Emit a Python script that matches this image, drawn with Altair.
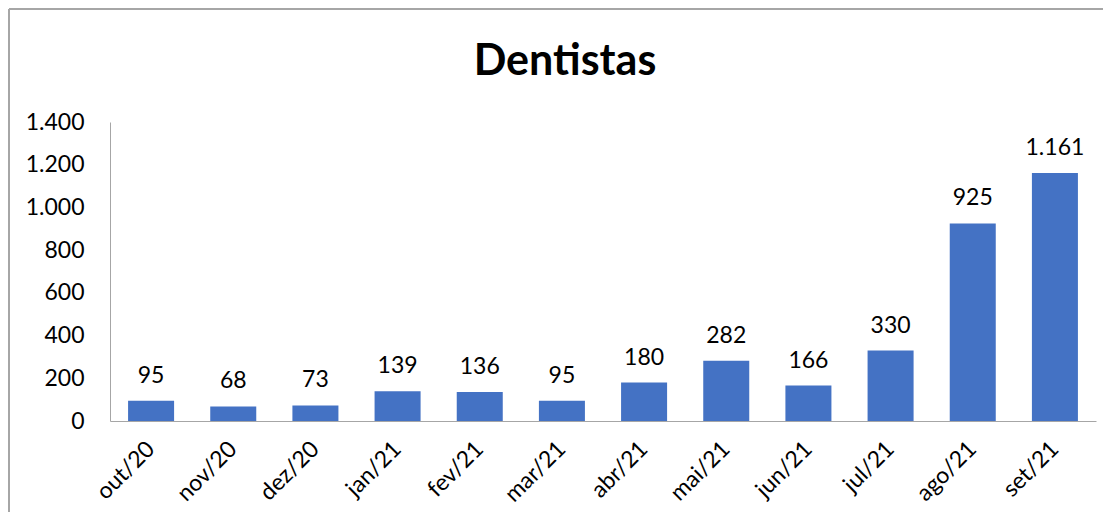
import altair as alt
import pandas as pd

months = ["out/20", "nov/20", "dez/20", "jan/21", "fev/21", "mar/21",
          "abr/21", "mai/21", "jun/21", "jul/21", "ago/21", "set/21"]
values = [95, 68, 73, 139, 136, 95, 180, 282, 166, 330, 925, 1161]
y_ticks = [0, 200, 400, 600, 800, 1000, 1200, 1400]

df = pd.DataFrame({"mes": months, "valor": values})

FONT = "Lato"
BLUE = "#4472C4"
GRAY = "#A6A6A6"

base = alt.Chart(df).encode(
    x=alt.X("mes:N", sort=months, title=None,
            scale=alt.Scale(paddingInner=0.44, paddingOuter=0.22),
            axis=alt.Axis(labelAngle=-45, labelAlign="right", labelBaseline="middle",
                          labelPadding=24, ticks=False, domainColor=GRAY,
                          labelFont=FONT, labelFontSize=23, labelColor="#000000")),
)

bars = base.mark_bar(color=BLUE).encode(
    y=alt.Y("valor:Q", title=None,
            scale=alt.Scale(domain=[0, 1400]),
            axis=alt.Axis(values=y_ticks, grid=False, ticks=False, domainColor=GRAY,
                          labelPadding=26, labelFont=FONT, labelFontSize=23,
                          labelColor="#000000",
                          labelExpr="replace(format(datum.value, ','), ',', '.')"))
)

labels = base.transform_calculate(
    rot="replace(format(datum.valor, ','), ',', '.')"
).mark_text(font=FONT, fontSize=23, baseline="alphabetic", dy=-18, color="#000000").encode(
    y="valor:Q", text="rot:N"
)

frame_df = pd.DataFrame({"a": [0]})
left_line = alt.Chart(frame_df).mark_rule(color=GRAY, strokeWidth=2).encode(
    x=alt.value(-101), y=alt.value(-113), y2=alt.value(390)
)
top_line = alt.Chart(frame_df).mark_rule(color=GRAY, strokeWidth=2).encode(
    x=alt.value(-101), x2=alt.value(993), y=alt.value(-113)
)

chart = alt.layer(bars, labels, left_line, top_line).properties(
    width=986, height=299, padding=0, background="white",
    title=alt.TitleParams("Dentistas", font=FONT, fontSize=43, fontWeight="bold",
                          anchor="middle", frame="group", dx=-38, offset=-110,
                          baseline="alphabetic", color="#000000"),
).configure_view(strokeWidth=0, stroke="transparent")

chart.save("out.html", embed_options={"renderer": "svg", "actions": False})
